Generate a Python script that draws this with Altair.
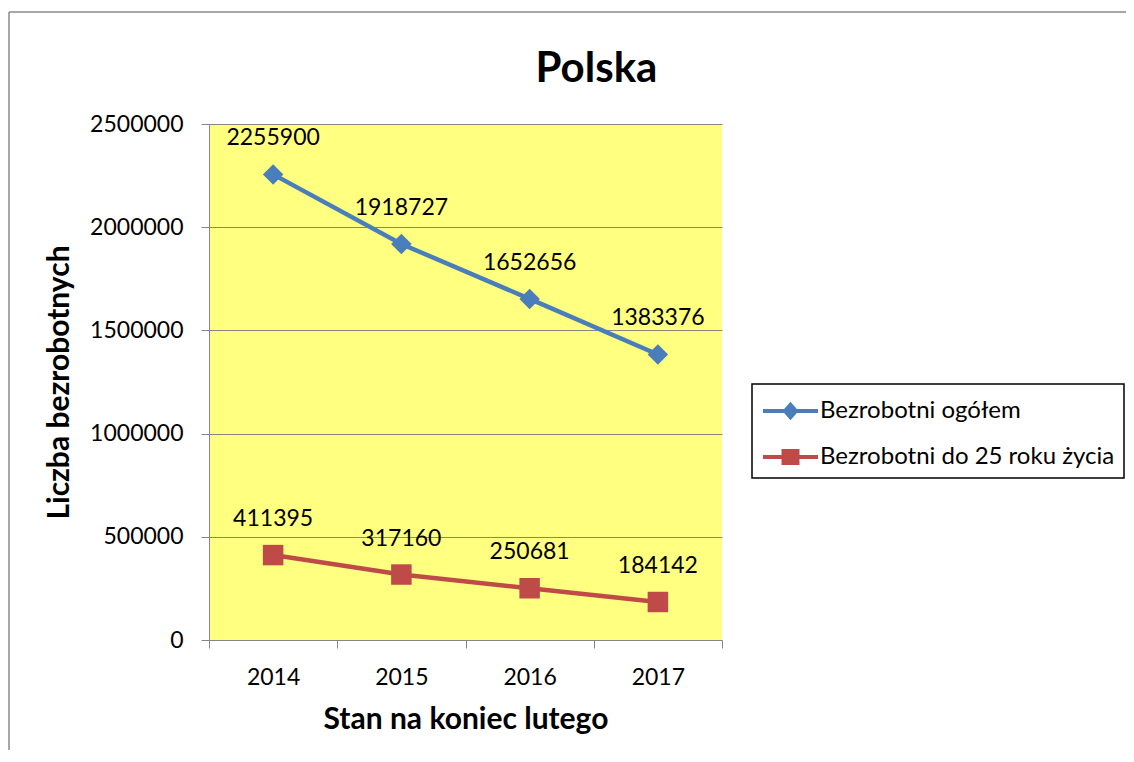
import altair as alt
import pandas as pd

# ---- data ----
years = ["2014", "2015", "2016", "2017"]
ogolem = [2255900, 1918727, 1652656, 1383376]
do25 = [411395, 317160, 250681, 184142]
series_names = ["Bezrobotni ogółem", "Bezrobotni do 25 roku życia"]
series_colors = ["#4A7EBB", "#BE4B48"]
marker_shapes = ["diamond", "square"]
y_ticks = [0, 500000, 1000000, 1500000, 2000000, 2500000]

# legend symbols: a short line with the series marker on it (custom SVG paths)
legend_paths = [
    "M-0.889,-0.111L2.167,-0.111L2.167,0.111L-0.889,0.111Z M0.639,-0.52L1.089,0L0.639,0.52L0.189,0Z",
    "M-0.889,-0.111L2.167,-0.111L2.167,0.111L-0.889,0.111Z M0.139,-0.45L1.139,-0.45L1.139,0.45L0.139,0.45Z",
]

rows = []
for name, vals, col, shp in zip(series_names, [ogolem, do25], series_colors, marker_shapes):
    for yr, v in zip(years, vals):
        rows.append({"rok": yr, "liczba": v, "seria": name, "kolor": col, "ksztalt": shp})
df = pd.DataFrame(rows)

FONT = "Lato"
GRID = "#868686"

base = alt.Chart(df)

x_enc = alt.X(
    "rok:N", sort=years,
    scale=alt.Scale(type="band", paddingInner=0, paddingOuter=0),
    axis=alt.Axis(title="Stan na koniec lutego", labelAngle=0, tickBand="extent",
                  grid=False, titlePadding=15),
)
y_enc = alt.Y(
    "liczba:Q",
    scale=alt.Scale(domain=[0, 2500000], nice=False),
    axis=alt.Axis(title="Liczba bezrobotnych", values=y_ticks, format="d",
                  grid=True, gridColor=GRID, gridWidth=1, titlePadding=15),
)

lines = base.mark_line(strokeWidth=4.5).encode(
    x=x_enc, y=y_enc,
    color=alt.Color("kolor:N", scale=None),
    detail="seria:N",
)

points = base.mark_point(filled=True, size=420, opacity=1).encode(
    x=x_enc, y=y_enc,
    color=alt.Color("kolor:N", scale=None),
    shape=alt.Shape("ksztalt:N", scale=None),
)

labels = base.mark_text(dy=-36, fontSize=23, font=FONT, color="black").encode(
    x=x_enc, y=y_enc,
    text=alt.Text("liczba:Q", format="d"),
)

leg = alt.Legend(
    orient="none", legendX=543, legendY=260, title=None,
    strokeColor="black", fillColor="white", padding=9,
    symbolSize=1296, symbolStrokeWidth=0, symbolOpacity=1,
    rowPadding=16, labelOffset=23, labelFont=FONT, labelFontSize=24,
    labelColor="black", labelLimit=500,
)

legend_layer = base.mark_point(filled=True, opacity=0).encode(
    x=x_enc, y=y_enc,
    color=alt.Color("seria:N", scale=alt.Scale(domain=series_names, range=series_colors), legend=leg),
    shape=alt.Shape("seria:N", scale=alt.Scale(domain=series_names, range=legend_paths), legend=leg),
)

frame_df = pd.DataFrame({"k": [0]})
frame_v = alt.Chart(frame_df).mark_rule(color="#8a8a8a", strokeWidth=1.5).encode(
    x=alt.value(-200), y=alt.value(-112), y2=alt.value(800)
)
frame_h = alt.Chart(frame_df).mark_rule(color="#8a8a8a", strokeWidth=1.5).encode(
    x=alt.value(-200), x2=alt.value(1000), y=alt.value(-112)
)

chart = alt.layer(frame_v, frame_h, lines, points, labels, legend_layer).properties(
    width=513, height=516,
    autosize=alt.AutoSizeParams(type="none"),
    padding={"left": 201, "top": 116, "right": 404, "bottom": 110},
    background="white",
    title=alt.Title("Polska", font=FONT, fontSize=42, fontWeight="bold", color="black",
                    anchor="middle", frame="group", dx=131, baseline="alphabetic", offset=-113),
).configure_view(
    strokeWidth=0, fill="#FFFF80"
).configure_axis(
    labelFont=FONT, labelFontSize=23, labelColor="black",
    titleFont=FONT, titleFontSize=30, titleFontWeight="bold", titleColor="black",
    domainColor=GRID, tickColor=GRID, tickSize=8, labelPadding=18,
).configure_legend(
    strokeWidth=1.5
)

chart.save("out.html", embed_options={"renderer": "svg", "actions": False})
